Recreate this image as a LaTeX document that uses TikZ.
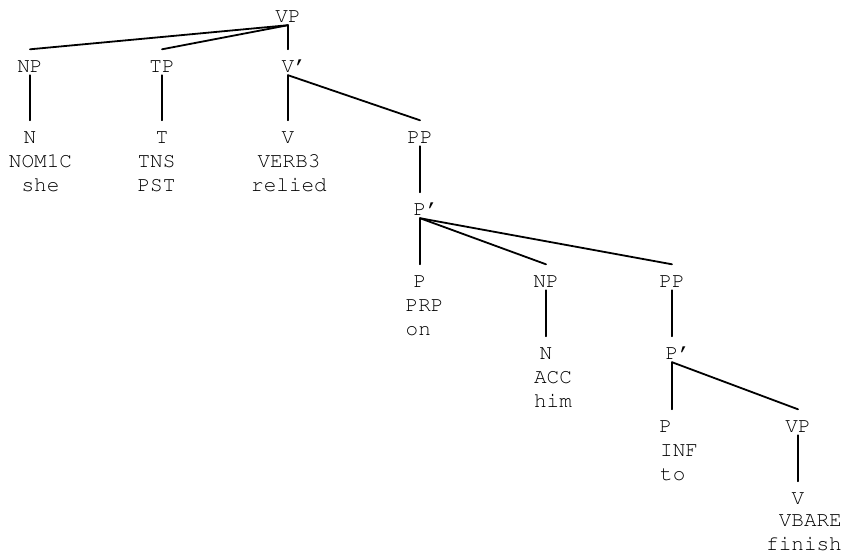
\documentclass[tikz,border=0pt]{standalone}
\usepackage[T1]{fontenc}
\usepackage{courier}
\usetikzlibrary{positioning}

\begin{document}
\begin{tikzpicture}[
  x=1pt, y=-1pt,
  font=\fontsize{21}{24}\selectfont\ttfamily,
  line cap=round, line join=round,
  cat/.style={anchor=base, inner sep=0pt, text height=22.5pt, text depth=3pt},
  feat/.style={anchor=base, inner sep=0pt, align=center},
  branch/.style={line width=1.8pt, draw=black}
]
\useasboundingbox (0,0) rectangle (843,554);

% =========================================================================
% Kategórie (uzly stromu)
% =========================================================================

% Koreň
\node[cat] (vp)    at (288, 22)  {VP};

% Úroveň 1
\node[cat] (np)    at ( 30, 72)  {NP};
\node[cat] (tp)    at (162, 72)  {TP};
\node[cat] (vbar)  at (288, 72)  {V\rlap{'}};

% Úroveň 2
\node[cat] (n)     at ( 30, 143) {N};
\node[cat] (t)     at (162, 143) {T};
\node[cat] (v)     at (288, 143) {V};
\node[cat] (pp)    at (420, 143) {PP};

% Úroveň 3
\node[cat] (pbar)  at (420, 215) {P\rlap{'}};

% Úroveň 4
\node[cat] (p)     at (420, 287) {P};
\node[cat] (np2)   at (546, 287) {NP};
\node[cat] (pp2)   at (672, 287) {PP};

% Úroveň 5
\node[cat] (n2)    at (546, 359) {N};
\node[cat] (pbar2) at (672, 359) {P\rlap{'}};

% Úroveň 6
\node[cat] (p2)    at (672, 432) {\llap{P}\hspace{1.5pt}};
\node[cat] (vp2)   at (798, 432) {VP};

% Úroveň 7
\node[cat] (v2)    at (798, 504) {V};

% =========================================================================
% Rysy a slová pod listami (base = posledný riadok)
% =========================================================================
\node[feat]                          (n-f)  at ( 40.5, 191) {NOM1C\\she};
\node[feat]                          (t-f)  at (156.5, 191) {TNS\\PST};
\node[feat]                          (v-f)  at (289, 191)   {VERB3\\relied};
\node[feat, align=left, anchor=base west]  (p-f)  at (405.5, 335) {PRP\\on};
\node[feat]                          (n2-f) at (553, 407)   {ACC\\him};
\node[feat, align=left, anchor=base west]  (p2-f) at (660, 480)   {INF\\to};
\node[feat, align=right, anchor=base east] (v2-f) at (842, 550)   {VBARE\\finish};

% =========================================================================
% Hrany
% =========================================================================
\draw[branch] (vp.south) -- (np.north);
\draw[branch] (vp.south) -- (tp.north);
\draw[branch] (vp.south) -- (vbar.north);

\draw[branch] (np.south) -- (n.north);
\draw[branch] (tp.south) -- (t.north);
\draw[branch] (vbar.south) -- (v.north);
\draw[branch] (vbar.south) -- (pp.north);

\draw[branch] (pp.south) -- (pbar.north);

\draw[branch] (pbar.south) -- (p.north);
\draw[branch] (pbar.south) -- (np2.north);
\draw[branch] (pbar.south) -- (pp2.north);

\draw[branch] (np2.south) -- (n2.north);
\draw[branch] (pp2.south) -- (pbar2.north);

\draw[branch] (pbar2.south) -- (p2.north);
\draw[branch] (pbar2.south) -- (vp2.north);

\draw[branch] (vp2.south) -- (v2.north);

\end{tikzpicture}
\end{document}
